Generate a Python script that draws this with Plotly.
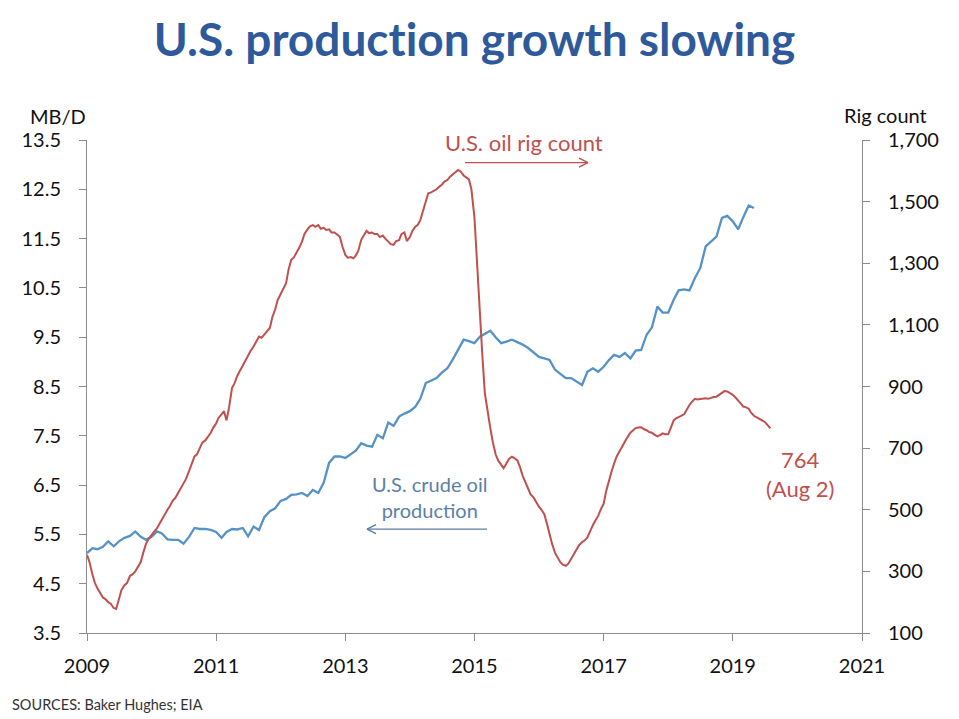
import pandas as pd
import plotly.graph_objects as go

# U.S. crude oil production, MB/D, monthly Jan 2009 - May 2019
production = [
    5.12, 5.22, 5.20, 5.25, 5.36, 5.26, 5.36, 5.43, 5.47, 5.56, 5.45, 5.39,   # 2009
    5.45, 5.56, 5.52, 5.40, 5.39, 5.39, 5.31, 5.45, 5.63, 5.61, 5.61, 5.59,   # 2010
    5.55, 5.43, 5.55, 5.61, 5.60, 5.63, 5.46, 5.66, 5.59, 5.85, 5.97, 6.03,   # 2011
    6.18, 6.22, 6.30, 6.31, 6.34, 6.28, 6.40, 6.34, 6.55, 6.95, 7.08, 7.08,   # 2012
    7.05, 7.12, 7.20, 7.35, 7.30, 7.28, 7.52, 7.45, 7.77, 7.70, 7.89, 7.95,   # 2013
    8.00, 8.09, 8.25, 8.57, 8.62, 8.67, 8.78, 8.87, 9.05, 9.24, 9.45, 9.42,   # 2014
    9.38, 9.51, 9.56, 9.63, 9.50, 9.38, 9.41, 9.45, 9.40, 9.35, 9.28, 9.20,   # 2015
    9.10, 9.07, 9.04, 8.84, 8.75, 8.67, 8.67, 8.60, 8.53, 8.80, 8.87, 8.80,   # 2016
    8.90, 9.04, 9.14, 9.10, 9.18, 9.07, 9.23, 9.24, 9.55, 9.70, 10.12, 10.00, # 2017
    10.00, 10.26, 10.45, 10.47, 10.45, 10.70, 10.90, 11.34, 11.45, 11.54, 11.92, 11.96,  # 2018
    11.85, 11.69, 11.93, 12.17, 12.12,                                        # 2019
]
production_dates = pd.date_range("2009-01-01", periods=len(production), freq="MS")

# U.S. oil rig count, twice a month (1st, 15th) Jan 2009 - Jul 2019, plus Aug 2 2019
rig_count = [
    354, 330, 290, 262, 245, 232, 215, 210, 200, 195, 181, 178,
    215, 240, 255, 262, 285, 290, 300, 312, 330, 360, 390, 405,            # 2009
    420, 428, 440, 455, 470, 482, 500, 512, 530, 538, 555, 570,
    585, 600, 625, 648, 673, 680, 700, 718, 725, 735, 749, 765,            # 2010
    780, 798, 812, 820, 790, 830, 895, 910, 935, 950, 970, 985,
    1000, 1015, 1030, 1045, 1062, 1058, 1070, 1080, 1090, 1125, 1150, 1180,  # 2011
    1200, 1215, 1235, 1280, 1311, 1318, 1335, 1350, 1370, 1395, 1410, 1420,
    1424, 1418, 1424, 1412, 1415, 1408, 1410, 1400, 1400, 1392, 1386, 1355,  # 2012
    1327, 1318, 1320, 1316, 1325, 1340, 1376, 1390, 1405, 1398, 1400, 1395,
    1395, 1385, 1390, 1380, 1370, 1362, 1360, 1372, 1375, 1395, 1400, 1372,  # 2013
    1385, 1405, 1419, 1425, 1440, 1470, 1500, 1527, 1530, 1535, 1540, 1548,
    1555, 1565, 1570, 1580, 1590, 1595, 1603, 1598, 1585, 1578, 1572, 1540,  # 2014
    1450, 1311, 1130, 1000, 878, 820, 765, 720, 680, 660, 645, 635,
    650, 665, 672, 668, 660, 640, 610, 590, 570, 550, 540, 525,            # 2015
    510, 500, 485, 455, 420, 390, 360, 345, 330, 322, 318, 325,
    340, 355, 370, 385, 395, 400, 410, 430, 450, 465, 480, 500,            # 2016
    520, 560, 600, 625, 650, 672, 690, 705, 722, 735, 750, 758,
    765, 767, 768, 762, 758, 752, 750, 744, 738, 742, 748, 745,            # 2017
    745, 765, 790, 797, 800, 805, 810, 825, 840, 850, 860, 858,
    860, 862, 862, 860, 864, 866, 867, 872, 878, 885, 884, 880,            # 2018
    873, 865, 855, 845, 835, 833, 828, 815, 805, 800, 795, 790,
    785, 776, 764,                                                         # 2019
]
_months = pd.date_range("2009-01-01", periods=(len(rig_count) - 1) // 2, freq="MS")
rig_dates = []
for _m in _months:
    rig_dates += [_m, _m + pd.Timedelta(days=14)]
rig_dates.append(pd.Timestamp("2019-08-02"))

left_ticks = [3.5, 4.5, 5.5, 6.5, 7.5, 8.5, 9.5, 10.5, 11.5, 12.5, 13.5]
right_ticks = [100, 300, 500, 700, 900, 1100, 1300, 1500, 1700]
year_ticks = ["2009", "2011", "2013", "2015", "2017", "2019", "2021"]

RED = "#C0504D"
BLUE = "#5592C6"
TXTBLUE = "#5B7FA8"
FONT = "Lato"
INK = "#111111"

fig = go.Figure()
fig.add_trace(go.Scatter(x=production_dates, y=production, mode="lines",
                         line=dict(color=BLUE, width=2.3), yaxis="y", name="production"))
fig.add_trace(go.Scatter(x=rig_dates, y=rig_count, mode="lines",
                         line=dict(color=RED, width=2), yaxis="y2", name="rigs"))

axis_common = dict(showline=True, linecolor="#8c8c8c", linewidth=1, ticks="outside",
                   ticklen=7, tickcolor="#8c8c8c", showgrid=False, zeroline=False,
                   tickfont=dict(family=FONT, size=20, color=INK))

# page is offset by 8px body margin, so margins are shifted accordingly
fig.update_layout(
    width=959, height=719,
    margin=dict(l=79, r=105, t=132, b=94),
    paper_bgcolor="white", plot_bgcolor="white",
    showlegend=False,
    font=dict(family=FONT),
    title=dict(text="<b>U.S. product\u200cion growth slowing</b>", x=0.5, xanchor="center",
               xref="paper", y=1 - 32 / 719, yanchor="middle",
               font=dict(family=FONT, size=46, color="#2E5A9C")),
    xaxis=dict(range=["2009-01-01", "2021-01-01"],
               tickvals=[pd.Timestamp(y + "-01-01") for y in year_ticks],
               ticktext=year_ticks, ticklabelstandoff=8, **axis_common),
    yaxis=dict(range=[3.5, 13.5], tickvals=left_ticks,
               ticktext=[f"{v:.1f}" for v in left_ticks], ticklabelstandoff=14, **axis_common),
    yaxis2=dict(range=[100, 1700], overlaying="y", side="right", tickvals=right_ticks,
                ticktext=[f"{v:,}" for v in right_ticks], ticklabelstandoff=14, **axis_common),
)

# helpers: window-pixel position -> paper coordinates of the plot area (87..862, 140..633.3)
def px(xp):
    return (xp - 87) / 775.0

def py(yp):
    return (633.3 - yp) / 493.3

annotations = [
    dict(text="MB/D", x=px(58), y=py(116), xref="paper", yref="paper", showarrow=False,
         font=dict(family=FONT, size=20, color=INK), xanchor="center", yanchor="middle"),
    dict(text="Rig count", x=px(885), y=py(115), xref="paper", yref="paper", showarrow=False,
         font=dict(family=FONT, size=20, color=INK), xanchor="center", yanchor="middle"),
    dict(text="U.S. oil rig count", x=px(524), y=py(143), xref="paper", yref="paper", showarrow=False,
         font=dict(family=FONT, size=22, color=RED), xanchor="center", yanchor="middle"),
    dict(text="U.S. crude oil<br>production", x=px(429), y=py(497), xref="paper", yref="paper",
         showarrow=False, font=dict(family=FONT, size=20, color=TXTBLUE),
         xanchor="center", yanchor="middle"),
    dict(text="764<br>(Aug 2)", x=px(800), y=py(474), xref="paper", yref="paper",
         showarrow=False, font=dict(family=FONT, size=22, color=RED),
         xanchor="center", yanchor="middle"),
    dict(text="SOURCES: Baker Hughes; EIA", x=px(10), y=py(705), xref="paper",
         yref="paper", showarrow=False, font=dict(family=FONT, size=14.5, color="#333333"),
         xanchor="left", yanchor="middle"),
]

def line_shape(x0, y0, x1, y1, color):
    return dict(type="line", xref="paper", yref="paper", x0=px(x0), y0=py(y0),
                x1=px(x1), y1=py(y1), line=dict(color=color, width=1.3))

shapes = [
    line_shape(465, 162.7, 588, 162.7, RED),
    line_shape(588, 162.7, 579, 158.2, RED),
    line_shape(588, 162.7, 579, 167.2, RED),
    line_shape(487, 529.3, 367, 529.3, TXTBLUE),
    line_shape(367, 529.3, 376, 524.8, TXTBLUE),
    line_shape(367, 529.3, 376, 533.8, TXTBLUE),
]
fig.update_layout(annotations=annotations, shapes=shapes)

fig.write_html("out.html")
